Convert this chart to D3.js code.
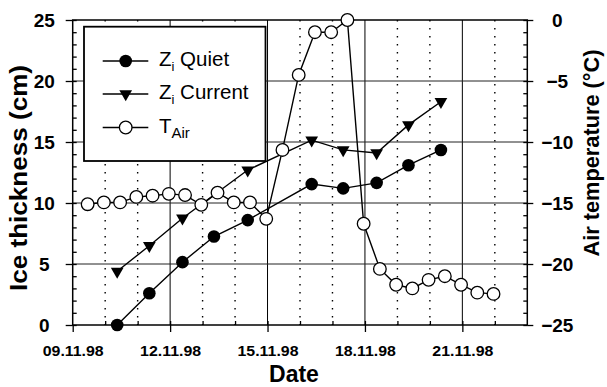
<!DOCTYPE html>
<html>
<head>
<meta charset="utf-8">
<script src="https://cdn.jsdelivr.net/npm/d3@7"></script>
<style>
  body { margin: 0; background: #fff; }
  text { font-family: "Liberation Sans", Arial, sans-serif; }
</style>
</head>
<body>
<div id="chart"></div>
<script>
// day of November 1998 (fractional) and values
const quietDays = [10.37, 11.36, 12.38, 13.35, 14.39, 16.36, 17.33, 18.36, 19.34, 20.34];
const quietIce = [0, 2.6, 5.15, 7.25, 8.6, 11.55, 11.2, 11.65, 13.1, 14.35];

const currentDays = [10.37, 11.36, 12.38, 14.39, 16.36, 17.33, 18.36, 19.34, 20.34];
const currentIce = [4.4, 6.5, 8.75, 12.7, 15.15, 14.35, 14.1, 16.4, 18.3];

const airDays = [9.46, 9.96, 10.46, 10.96, 11.46, 11.96, 12.46, 12.96, 13.46, 13.96, 14.46, 14.96, 15.46,
  15.96, 16.46, 16.96, 17.46, 17.96, 18.46, 18.96, 19.46, 19.96, 20.46, 20.96, 21.46, 21.96];
const airTemp = [-15.1, -14.95, -14.95, -14.5, -14.4, -14.25, -14.35, -15.15, -14.15, -14.95, -14.95, -16.3, -10.65,
  -4.5, -1.0, -1.0, 0, -16.7, -20.4, -21.7, -22.0, -21.3, -21.0, -21.7, -22.35, -22.45];

const dateTicks = [9, 12, 15, 18, 21];
const dateLabels = ['09.11.98', '12.11.98', '15.11.98', '18.11.98', '21.11.98'];
const iceTicks = [0, 5, 10, 15, 20, 25];
const tempTicks = [-25, -20, -15, -10, -5, 0];

const width = 607, height = 387;
const plotLeft = 72.7, plotRight = 527.3, plotTop = 20, plotBottom = 325;

const svg = d3.select('#chart').append('svg')
  .attr('width', width)
  .attr('height', height);

const x = d3.scaleLinear().domain([9, 23]).range([plotLeft, plotRight]);
const yL = d3.scaleLinear().domain([0, 25]).range([plotBottom, plotTop]);
const yR = d3.scaleLinear().domain([-25, 0]).range([plotBottom, plotTop]);

// grid: dotted for each day, solid at labelled days and at 5 cm steps
const days = d3.range(10, 23);
svg.append('g').selectAll('line')
  .data(days)
  .enter().append('line')
  .attr('x1', d => x(d)).attr('x2', d => x(d))
  .attr('y1', plotTop).attr('y2', plotBottom)
  .attr('stroke', '#000')
  .attr('stroke-width', d => dateTicks.includes(d) ? 1 : 1.4)
  .attr('stroke-dasharray', d => dateTicks.includes(d) ? null : '1.6,6.4');

svg.append('g').selectAll('line')
  .data([5, 10, 15, 20])
  .enter().append('line')
  .attr('x1', plotLeft).attr('x2', plotRight)
  .attr('y1', d => yL(d)).attr('y2', d => yL(d))
  .attr('stroke', '#222')
  .attr('stroke-width', 1);

// axes
const bottomAxis = svg.append('g')
  .attr('transform', `translate(0,${plotBottom})`)
  .call(d3.axisBottom(x).tickValues(dateTicks).tickSize(7)
    .tickFormat((d, i) => dateLabels[i]));
bottomAxis.selectAll('text').attr('y', 20)
  .attr('textLength', 61).attr('lengthAdjust', 'spacingAndGlyphs')
  .style('font-size', '15.5px').style('font-weight', 'bold');

svg.append('g')
  .attr('transform', `translate(0,${plotBottom})`)
  .call(d3.axisBottom(x).tickValues(days).tickSize(-4).tickFormat(''));

const leftAxis = svg.append('g')
  .attr('transform', `translate(${plotLeft},0)`)
  .call(d3.axisLeft(yL).tickValues(iceTicks).tickSize(7));
leftAxis.selectAll('text').attr('x', -28.5).style('text-anchor', 'middle')
  .style('font-size', '19px').style('font-weight', 'bold');

svg.append('g')
  .attr('transform', `translate(${plotLeft},0)`)
  .call(d3.axisLeft(yL).tickValues(d3.range(0, 26)).tickSize(-4).tickFormat(''));

const rightAxis = svg.append('g')
  .attr('transform', `translate(${plotRight},0)`)
  .call(d3.axisRight(yR).tickValues(tempTicks).tickSize(6));
rightAxis.selectAll('text').attr('x', 30).style('text-anchor', 'middle')
  .style('font-size', '19px').style('font-weight', 'bold');

svg.append('g')
  .attr('transform', `translate(${plotRight},0)`)
  .call(d3.axisRight(yR).tickValues(d3.range(-25, 1)).tickSize(-4).tickFormat(''));

svg.selectAll('.domain').remove();
svg.selectAll('.tick line').attr('stroke', '#000').attr('stroke-width', 1.3);

svg.append('rect')
  .attr('x', plotLeft).attr('y', plotTop)
  .attr('width', plotRight - plotLeft).attr('height', plotBottom - plotTop)
  .attr('fill', 'none')
  .attr('stroke', '#000')
  .attr('stroke-width', 1.5);

// axis titles
svg.append('text')
  .attr('x', 294).attr('y', 382)
  .attr('text-anchor', 'middle')
  .style('font-size', '23px').style('font-weight', 'bold')
  .text('Date');

svg.append('text')
  .attr('transform', 'translate(27,178) rotate(-90)')
  .attr('text-anchor', 'middle')
  .attr('textLength', 226).attr('lengthAdjust', 'spacingAndGlyphs')
  .style('font-size', '23px').style('font-weight', 'bold')
  .text('Ice thickness (cm)');

svg.append('text')
  .attr('transform', 'translate(599,153) rotate(-90)')
  .attr('text-anchor', 'middle')
  .attr('textLength', 207).attr('lengthAdjust', 'spacingAndGlyphs')
  .style('font-size', '22px').style('font-weight', 'bold')
  .text('Air temperature (°C)');

// series
const quiet = quietDays.map((d, i) => ({ d, v: quietIce[i] }));
const current = currentDays.map((d, i) => ({ d, v: currentIce[i] }));
const air = airDays.map((d, i) => ({ d, v: airTemp[i] }));

const lineL = d3.line().x(p => x(p.d)).y(p => yL(p.v));
const lineR = d3.line().x(p => x(p.d)).y(p => yR(p.v));

const tri = d3.symbol().type(d3.symbolTriangle).size(70);
const r = 6.3;

svg.append('path').datum(quiet)
  .attr('d', lineL).attr('fill', 'none').attr('stroke', '#000').attr('stroke-width', 1.4);
svg.append('path').datum(current)
  .attr('d', lineL).attr('fill', 'none').attr('stroke', '#000').attr('stroke-width', 1.4);
svg.append('path').datum(air)
  .attr('d', lineR).attr('fill', 'none').attr('stroke', '#000').attr('stroke-width', 1.4);

svg.append('g').selectAll('circle')
  .data(quiet)
  .enter().append('circle')
  .attr('cx', p => x(p.d)).attr('cy', p => yL(p.v))
  .attr('r', r).attr('fill', '#000');

svg.append('g').selectAll('path')
  .data(current)
  .enter().append('path')
  .attr('d', tri)
  .attr('transform', p => `translate(${x(p.d)},${yL(p.v)}) rotate(180)`)
  .attr('fill', '#000');

svg.append('g').selectAll('circle')
  .data(air)
  .enter().append('circle')
  .attr('cx', p => x(p.d)).attr('cy', p => yR(p.v))
  .attr('r', r).attr('fill', '#fff').attr('stroke', '#000').attr('stroke-width', 1.3);

// legend
const legend = svg.append('g');
legend.append('rect')
  .attr('x', 84).attr('y', 26.7)
  .attr('width', 181.5).attr('height', 134.3)
  .attr('fill', '#fff').attr('stroke', '#000').attr('stroke-width', 1.8);

const legendRows = [
  { y: 61, main: 'Z', sub: 'i', rest: ' Quiet', kind: 'quiet' },
  { y: 94, main: 'Z', sub: 'i', rest: ' Current', kind: 'current' },
  { y: 127.5, main: 'T', sub: 'Air', rest: '', kind: 'air' }
];

legendRows.forEach(row => {
  legend.append('line')
    .attr('x1', 102.7).attr('x2', 148.3)
    .attr('y1', row.y).attr('y2', row.y)
    .attr('stroke', '#000').attr('stroke-width', 1.4);
  if (row.kind === 'quiet') {
    legend.append('circle').attr('cx', 125.7).attr('cy', row.y).attr('r', r).attr('fill', '#000');
  } else if (row.kind === 'current') {
    legend.append('path').attr('d', tri)
      .attr('transform', `translate(125.7,${row.y}) rotate(180)`).attr('fill', '#000');
  } else {
    legend.append('circle').attr('cx', 125.7).attr('cy', row.y).attr('r', r)
      .attr('fill', '#fff').attr('stroke', '#000').attr('stroke-width', 1.3);
  }
  const t = legend.append('text')
    .attr('x', 159).attr('y', row.y + 5)
    .style('font-size', '20.5px');
  t.append('tspan').text(row.main);
  t.append('tspan').attr('dy', 5).style('font-size', row.sub === 'i' ? '13px' : '15px').text(row.sub);
  if (row.rest) t.append('tspan').attr('dy', -5).text(row.rest);
});
</script>
</body>
</html>
